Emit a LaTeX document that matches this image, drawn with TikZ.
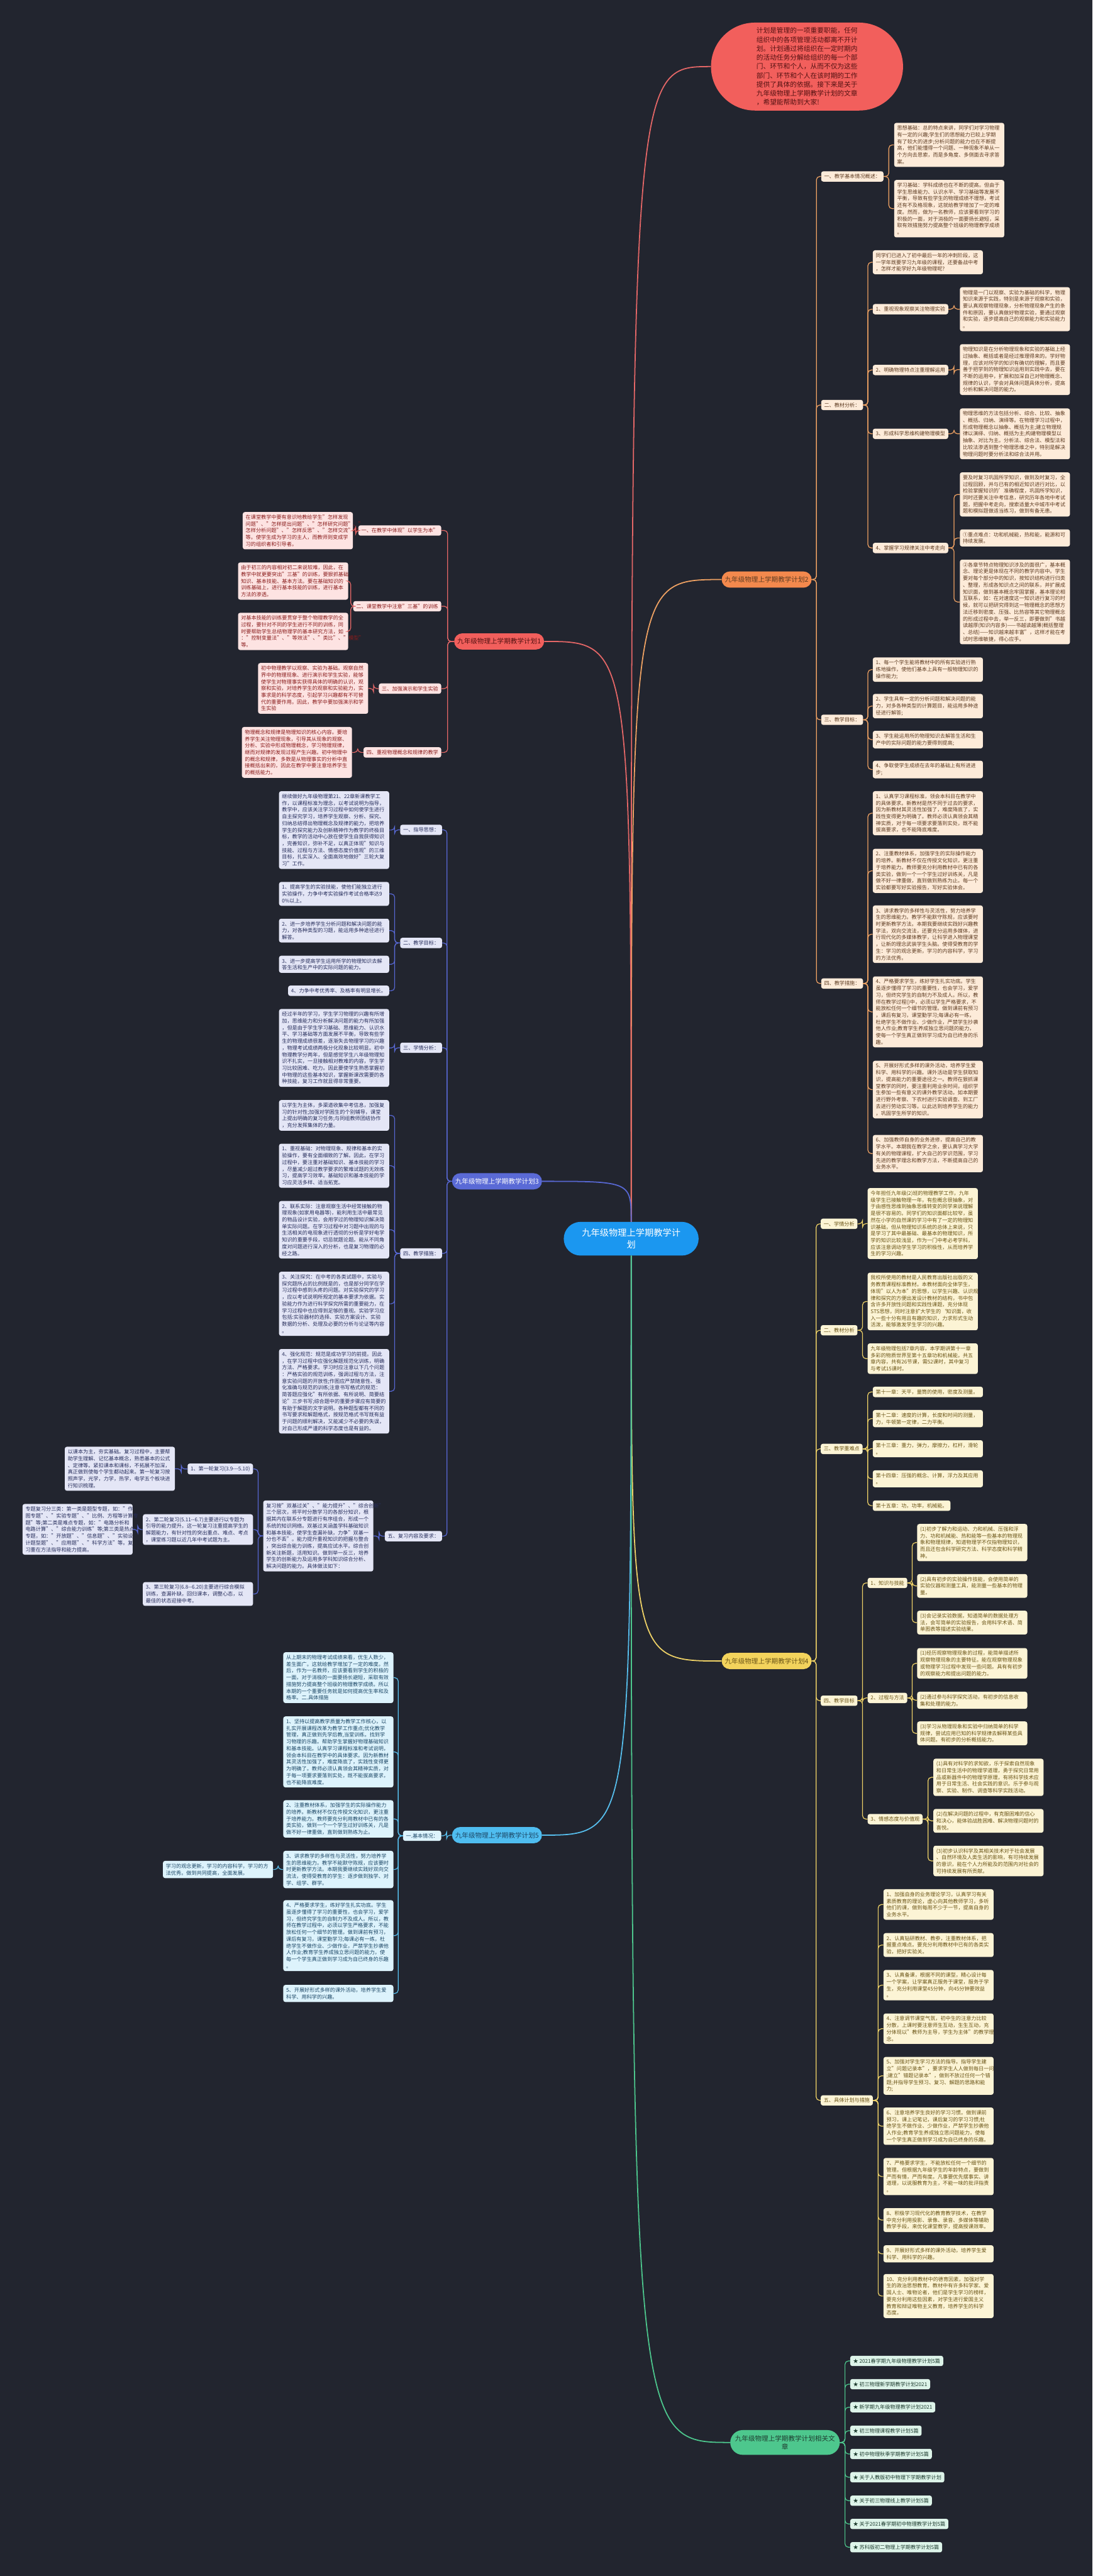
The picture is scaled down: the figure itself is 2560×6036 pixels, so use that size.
\documentclass[tikz,border=0pt]{standalone}
\usepackage{fontspec}
\setmainfont{Noto Sans CJK SC}
\usetikzlibrary{shapes.misc,calc}
\definecolor{bgc}{HTML}{22252F}
\definecolor{oL}{HTML}{EFA263}\definecolor{oP}{HTML}{F3894D}\definecolor{oF}{HTML}{FDEBD9}\definecolor{oT}{HTML}{5E3C22}
\definecolor{rL}{HTML}{E56767}\definecolor{rP}{HTML}{F25F5C}\definecolor{rF}{HTML}{FDE3E2}\definecolor{rT}{HTML}{8A1C1C}
\definecolor{bL}{HTML}{5868D4}\definecolor{bP}{HTML}{5A6AD6}\definecolor{bF}{HTML}{E4E6F6}\definecolor{bT}{HTML}{272E5C}
\definecolor{yL}{HTML}{EFD267}\definecolor{yP}{HTML}{F3D35C}\definecolor{yF}{HTML}{FCF4D5}\definecolor{yT}{HTML}{6A5416}
\definecolor{cL}{HTML}{57BFEE}\definecolor{cP}{HTML}{4FBDF0}\definecolor{cF}{HTML}{DDF3FC}\definecolor{cT}{HTML}{1C4766}
\definecolor{gL}{HTML}{4DC78D}\definecolor{gP}{HTML}{4DC78D}\definecolor{gF}{HTML}{DDF4E9}\definecolor{gT}{HTML}{1F3D30}
\definecolor{ctrC}{HTML}{1B97F0}
\newcommand\myfs{\fontsize{12}{15.8}\selectfont}
\newcommand\pillfs{\fontsize{15.6}{19}\selectfont}
\newcommand\linkR[3]{\draw[#1] (#2.east) -- ($(#2.east)!.5!(#2.east -| #3.west)$) |- (#3.west);}
\newcommand\linkL[3]{\draw[#1] (#2.west) -- ($(#2.west)!.5!(#2.west -| #3.east)$) |- (#3.east);}
\begin{document}
\begin{tikzpicture}[x=1pt,y=-1pt,
  bx/.style={rounded corners=5pt, align=left, inner xsep=7pt, inner ysep=6.5pt, font=\myfs},
  wbox/.style={text width=244pt},
  boxO/.style={bx, fill=oF, text=oT},
  boxR/.style={bx, fill=rF, text=rT},
  boxB/.style={bx, fill=bF, text=bT},
  boxY/.style={bx, fill=yF, text=yT},
  boxC/.style={bx, fill=cF, text=cT},
  boxG/.style={bx, fill=gF, text=gT},
  pill/.style={rounded rectangle, minimum height=38pt, inner xsep=6pt, inner ysep=4pt, font=\pillfs},
  lnO/.style={draw=oL, line width=1.8pt, rounded corners=8pt},
  lnR/.style={draw=rL, line width=1.8pt, rounded corners=8pt},
  lnB/.style={draw=bL, line width=1.8pt, rounded corners=8pt},
  lnY/.style={draw=yL, line width=1.8pt, rounded corners=8pt},
  lnC/.style={draw=cL, line width=1.8pt, rounded corners=8pt},
  lnG/.style={draw=gL, line width=1.8pt, rounded corners=8pt},
  mainln/.style={line width=2.6pt}]
\fill[bgc] (0,0) rectangle (2560,6036);
\useasboundingbox (0,0) rectangle (2560,6036);

% ---------- center, note, branch pills ----------
\node[rounded rectangle, fill=ctrC, text=white, minimum width=324pt, minimum height=79pt, align=center, font=\fontsize{21}{27}\selectfont, inner xsep=4pt] (ctr) at (1479,2902.5) {九年级物理上学期教学计\\划};
\node[rounded rectangle, fill=rP, text=rT!60!black, minimum width=452pt, minimum height=206pt, align=left, font=\fontsize{15.8}{21}\selectfont, inner xsep=1pt] (note) at (1891,156) {计划是管理的一项重要职能，任何\\组织中的各项管理活动都离不开计\\划。计划通过将组织在一定时期内\\的活动任务分解给组织的每一个部\\门、环节和个人，从而不仅为这些\\部门、环节和个人在该时期的工作\\提供了具体的依据。接下来是关于\\九年级物理上学期教学计划的文章\\，希望能帮助到大家!};
\node[pill, fill=oP, text=oT, anchor=east] (p2) at (1902,1358) {九年级物理上学期教学计划2};
\node[pill, fill=rP, text=rT!60!black, anchor=west] (p1) at (1064,1503) {九年级物理上学期教学计划1};
\node[pill, fill=bP, text=white, anchor=west] (p3) at (1059,2768) {九年级物理上学期教学计划3};
\node[pill, fill=yP, text=yT, anchor=east] (p4) at (1902,3892) {九年级物理上学期教学计划4};
\node[pill, fill=cP, text=cT, anchor=west] (p5) at (1059,4300) {九年级物理上学期教学计划5};
\node[pill, fill=gP, text=gT, anchor=east, align=center, minimum height=58pt] (rel) at (1968,5723) {九年级物理上学期教学计划相关文\\章};

\draw[mainln, rL] (ctr.north) .. controls (ctr.north |- note.west) .. (note.west);
\draw[mainln, oL] (ctr.north) .. controls (ctr.north |- p2.west) .. (p2.west);
\draw[mainln, rL] (ctr.north) .. controls (ctr.north |- p1.east) .. (p1.east);
\draw[mainln, bL] (ctr.north) .. controls (ctr.north |- p3.east) .. (p3.east);
\draw[mainln, yL] (ctr.south) .. controls (ctr.south |- p4.west) .. (p4.west);
\draw[mainln, cL] (ctr.south) .. controls (ctr.south |- p5.east) .. (p5.east);
\draw[mainln, gL] (ctr.south) .. controls (ctr.south |- rel.west) .. (rel.west);

% ---------- plan 2 ----------
\node[boxO, anchor=west] (p2a) at (1924,413.5) {一、教学基本情况概述：};
\node[boxO, wbox, anchor=west] (p2a1) at (2095,339.5) {思想基础：总的特点来讲，同学们对学习物理\\有一定的兴趣;学生们的思想能力已较上学期\\有了较大的进步;分析问题的能力也在不断提\\高，他们能懂得一个问题、一种现象不单从一\\个方向去思索，而是多角度、多侧面去寻求答\\案。};
\node[boxO, wbox, anchor=west] (p2a2) at (2095,489) {学习基础：学科成绩也在不断的提高。但由于\\学生思维能力、认识水平、学习基础等发展不\\平衡，导致有些学生的物理成绩不理想，考试\\还有不及格现象，这就给教学增加了一定的难\\度。然而，做为一名教师，应该要看到学习的\\积极的一面，对于消极的一面要扬长避短，采\\取有效措施努力提高整个班级的物理教学成绩\\。};
\node[boxO, anchor=west] (p2b) at (1924,949) {二、教材分析：};
\node[boxO, wbox, anchor=west] (p2b0) at (2045,614.5) {同学们已进入了初中最后一年的冲刺阶段，这\\一学年既要学习九年级的课程，还要备战中考\\，怎样才能学好九年级物理呢?};
\node[boxO, anchor=west] (p2b1) at (2045,724.5) {1、重视现象观察关注物理实验};
\node[boxO, wbox, anchor=west] (p2b1a) at (2249,724.5) {物理是一门以观察、实验为基础的科学，物理\\知识来源于实践，特别是来源于观察和实验，\\要认真观察物理现象，分析物理现象产生的条\\件和原因，要认真做好物理实验，要通过观察\\和实验，逐步提高自己的观察能力和实验能力\\。};
\node[boxO, anchor=west] (p2b2) at (2045,867) {2、明确物理特点注重理解运用};
\node[boxO, wbox, anchor=west] (p2b2a) at (2249,866) {物理知识是在分析物理现象和实验的基础上经\\过抽象、概括或者是经过推理得来的。学好物\\理，应该对所学的知识有确切的理解，而且要\\善于把学到的物理知识运用到实践中去，要在\\不断的运用中，扩展和加深自己对物理概念、\\规律的认识，学会对具体问题具体分析，提高\\分析和解决问题的能力。};
\node[boxO, anchor=west] (p2b3) at (2045,1016.5) {3、形成科学思维构建物理模型};
\node[boxO, wbox, anchor=west] (p2b3a) at (2249,1016.5) {物理思维的方法包括分析、综合、比较、抽象\\、概括、归纳、演绎等。在物理学习过程中，\\形成物理概念以抽象、概括为主;建立物理规\\律以演绎、归纳、概括为主;构建物理模型以\\抽象、对比为主。分析法、综合法、模型法和\\比较法渗透到整个物理思维之中，特别是解决\\物理问题时要分析法和综合法并用。};
\node[boxO, anchor=west] (p2b4) at (2045,1284) {4、掌握学习规律关注中考走向};
\node[boxO, wbox, anchor=west] (p2b4a) at (2249,1158.5) {要及时复习巩固所学知识，做到及时复习，全\\过程回顾，并与已有的相近知识进行对比，以\\检验掌握知识的'准确程度，巩固所学知识，\\同时还要关注中考信息，研究历年各地中考试\\题，把握中考走向，搜索适量大中城市中考试\\题和模拟题做适当练习，做到有备无患。};
\node[boxO, wbox, anchor=west] (p2b4b) at (2249,1260.5) {①重点难点：功和机械能，热和能，能源和可\\持续发展。};
\node[boxO, wbox, anchor=west] (p2b4c) at (2249,1410.5) {②各章节特点物理知识涉及的面很广，基本概\\念、理论更是体现在不同的教学内容中。学生\\要对每个部分中的知识，按知识结构进行归类\\、整理，形成各知识点之间的联系，并扩展成\\知识面，做到基本概念牢固掌握，基本理论相\\互联系，如：在对速度这一知识进行复习的时\\候，就可以把研究得到这一物理概念的思想方\\法迁移到密度、压强、比热容等其它物理概念\\的形成过程中去，举一反三，即要做到"书越\\读越厚(知识内容多)——书越读越薄(概括整理\\、总结)——知识越来越丰富"，这样才能在考\\试时思维敏捷，得心应手。};
\node[boxO, anchor=west] (p2c) at (1924,1686.5) {三、教学目标：};
\node[boxO, wbox, anchor=west] (p2c1) at (2045,1569) {1、每一个学生能将教材中的所有实验进行熟\\练地操作，使他们基本上具有一般物理知识的\\操作能力;};
\node[boxO, wbox, anchor=west] (p2c2) at (2045,1654.5) {2、学生具有一定的分析问题和解决问题的能\\力，对多各种类型的计算题目，能运用多种途\\径进行解答;};
\node[boxO, wbox, anchor=west] (p2c3) at (2045,1733) {3、学生能运用所的物理知识去解答生活和生\\产中的实际问题的能力要得到提高;};
\node[boxO, wbox, anchor=west] (p2c4) at (2045,1803) {4、争取使学生成绩在去年的基础上有所进进\\步;};
\node[boxO, anchor=west] (p2d) at (1924,2304.5) {四、教学措施：};
\node[boxO, wbox, anchor=west] (p2d1) at (2045,1905.5) {1、认真学习课程标准，领会本科目在教学中\\的具体要求。新教材是然不同于过去的要求，\\因为新教材其灵活性加强了，难度降底了，实\\践性变得更为明确了。教师必须认真领会其精\\神实质，对于每一项要求要落到实处，既不能\\拔高要求，也不能降底难度。};
\node[boxO, wbox, anchor=west] (p2d2) at (2045,2040.5) {2、注重教材体系，加强学生的实际操作能力\\的培养。新教材不仅在传授文化知识，更注重\\于培养能力。教师要充分利用教材中已有的各\\类实验，做到一个一个学生过好训练关，凡是\\做不好一律重做，直到做到熟练为止。每一个\\实验都要写好实验报告，写好实验体会。};
\node[boxO, wbox, anchor=west] (p2d3) at (2045,2189) {3、讲求教学的多样性与灵活性，努力培养学\\生的思维能力。教学不能默守陈规，应该要时\\时更新教学方法。本期我要继续实践好兴趣教\\学法，双向交流法，还要充分运用多媒体，进\\行现代化的多媒体教学，让科学进入物理课堂\\，让新的理念武装学生头脑。使得受教育的学\\生：学习的观念更新，学习的内容科学，学习\\的方法优秀。};
\node[boxO, wbox, anchor=west] (p2d4) at (2045,2371) {4、严格要求学生，练好学生扎实功底。学生\\虽逐步懂得了学习的重要性，也会学习，爱学\\习，但终究学生的自制力不及成人。所以，教\\师在教学过程()中，必须以学生严格要求，不\\能放松任何一个细节的管理。做到课前有预习\\，课后有复习，课堂勤学习;每课必有一练，\\杜绝学生不做作业、少做作业，严禁学生抄袭\\他人作业;教育学生养成独立思问题的能力，\\使每一个学生真正做到学习成为自已终身的乐\\趣。};
\node[boxO, wbox, anchor=west] (p2d5) at (2045,2553) {5、开展好形式多样的课外活动，培养学生爱\\科学、用科学的兴趣。课外活动是学生获取知\\识，提高能力的重要途径之一。教师在狠抓课\\堂教学的同时，要注重利用业余时间，组织学\\生参加一些有意义的课外教学活动。如本期要\\进行野外考察、下农村进行实验调查、到工厂\\去进行劳动实习等。以此达到培养学生的能力\\，巩固学生所学的知识。};
\node[boxO, wbox, anchor=west] (p2d6) at (2045,2703) {6、加强教师自身的业务进修，提高自己的教\\学水平。本期我在教学之余，要认真学习大学\\有关的物理课程，扩大自己的学识范围，学习\\先进的教学理念和教学方法，不断提高自己的\\业务水平。};
\linkR{lnO}{p2}{p2a}\linkR{lnO}{p2}{p2b}\linkR{lnO}{p2}{p2c}\linkR{lnO}{p2}{p2d}
\linkR{lnO}{p2a}{p2a1}\linkR{lnO}{p2a}{p2a2}
\linkR{lnO}{p2b}{p2b0}\linkR{lnO}{p2b}{p2b1}\linkR{lnO}{p2b}{p2b2}\linkR{lnO}{p2b}{p2b3}\linkR{lnO}{p2b}{p2b4}
\linkR{lnO}{p2b1}{p2b1a}\linkR{lnO}{p2b2}{p2b2a}\linkR{lnO}{p2b3}{p2b3a}
\linkR{lnO}{p2b4}{p2b4a}\linkR{lnO}{p2b4}{p2b4b}\linkR{lnO}{p2b4}{p2b4c}
\linkR{lnO}{p2c}{p2c1}\linkR{lnO}{p2c}{p2c2}\linkR{lnO}{p2c}{p2c3}\linkR{lnO}{p2c}{p2c4}
\linkR{lnO}{p2d}{p2d1}\linkR{lnO}{p2d}{p2d2}\linkR{lnO}{p2d}{p2d3}\linkR{lnO}{p2d}{p2d4}\linkR{lnO}{p2d}{p2d5}\linkR{lnO}{p2d}{p2d6}

% ---------- plan 1 ----------
\node[boxR, anchor=east] (p1a) at (1034,1243) {一、在教学中体现"以学生为本"};
\node[boxR, wbox, anchor=east] (p1a1) at (827,1243.5) {在课堂教学中要有意识地教给学生"怎样发现\\问题"、"怎样提出问题"、"怎样研究问题"、"\\怎样分析问题"、"怎样反思"、"怎样交流"等\\等。使学生成为学习的主人，而教师则变成学\\习的组织者和引导者。};
\node[boxR, anchor=east] (p1b) at (1034,1420.5) {二、课堂教学中注意"三基"的训练};
\node[boxR, wbox, anchor=east] (p1b1) at (816,1361.5) {由于初三的内容相对初二来说较难，因此，在\\教学中就更要突出"三基"的训练，要狠抓基础\\知识、基本技能、基本方法。要在基础知识的\\训练基础上，进行基本技能的训练，进行基本\\方法的渗透。};
\node[boxR, wbox, anchor=east] (p1b2) at (816,1479.5) {对基本技能的训练要贯穿于整个物理教学的全\\过程，要针对不同的学生进行不同的训练，同\\时要帮助学生总结物理学的基本研究方法，如\\："控制变量法"、"等效法"、"类比"、"模型"\\等。};
\node[boxR, anchor=east] (p1c) at (1034,1613.5) {三、加强演示和学生实验};
\node[boxR, wbox, anchor=east] (p1c1) at (863,1613) {初中物理教学以观察、实验为基础。观察自然\\界中的物理现象、进行演示和学生实验，能够\\使学生对物理事实获得具体的明确的认识，观\\察和实验，对培养学生的观察和实验能力，实\\事求是的科学态度，引起学习兴趣都有不可替\\代的重要作用。因此，教学中要加强演示和学\\生实验};
\node[boxR, anchor=east] (p1d) at (1034,1763) {四、重视物理概念和规律的教学};
\node[boxR, wbox, anchor=east] (p1d1) at (825,1763) {物理概念和规律是物理知识的核心内容。要培\\养学生关注物理现象，引导其从现象的观察、\\分析、实验中形成物理概念，学习物理规律，\\继而对规律的发现过程产生兴趣。初中物理中\\的概念和规律，多数是从物理事实的分析中直\\接概括出来的，因此在教学中要注意培养学生\\的概括能力。};
\linkL{lnR}{p1}{p1a}\linkL{lnR}{p1}{p1b}\linkL{lnR}{p1}{p1c}\linkL{lnR}{p1}{p1d}
\linkL{lnR}{p1a}{p1a1}\linkL{lnR}{p1b}{p1b1}\linkL{lnR}{p1b}{p1b2}\linkL{lnR}{p1c}{p1c1}\linkL{lnR}{p1d}{p1d1}

% ---------- plan 3 ----------
\node[boxB, anchor=east] (p3a) at (1036,1944.5) {一、指导思想：};
\node[boxB, wbox, anchor=east] (p3a1) at (912,1945) {继续做好九年级物理第21、22章新课教学工\\作，以课程标准为理念，以考试说明为指导，\\教学中，应该关注学习过程中如何使学生进行\\自主探究学习，培养学生观察、分析、探究、\\归纳总结得出物理概念及规律的能力，把培养\\学生的探究能力及创新精神作为教学的终极目\\标，教学的活动中心放在使学生自我获得知识\\，完善知识，弥补不足，以真正体现"知识与\\技能、过程与方法、情感态度价值观"的三维\\目标，扎实深入、全面高效地做好"三轮大复\\习"工作。};
\node[boxB, anchor=east] (p3b) at (1036,2209.5) {二、教学目标：};
\node[boxB, wbox, anchor=east] (p3b1) at (912,2094.5) {1、提高学生的实验技能，使他们能独立进行\\实验操作，力争中考实验操作考试合格率达9\\0\%以上。};
\node[boxB, wbox, anchor=east] (p3b2) at (912,2180.5) {2、进一步培养学生分析问题和解决问题的能\\力，对各种类型的习题，能运用多种途径进行\\解答。};
\node[boxB, wbox, anchor=east] (p3b3) at (912,2259.5) {3、进一步提高学生运用所学的物理知识去解\\答生活和生产中的实际问题的能力。};
\node[boxB, anchor=east] (p3b4) at (912,2321.5) {4、力争中考优秀率、及格率有明显增长。};
\node[boxB, anchor=east] (p3c) at (1036,2455) {三、学情分析：};
\node[boxB, wbox, anchor=east] (p3c1) at (912,2455.5) {经过半年的学习，学生学习物理的兴趣有所增\\加，思维能力和分析解决问题的能力有所加强\\，但是由于学生学习基础、思维能力、认识水\\平、学习基础等方面发展不平衡，导致有些学\\生的物理成绩很差，逐渐失去物理学习的兴趣\\，物理考试成绩两极分化现象比较明显。初中\\物理教学分两年，但是感觉学生八年级物理知\\识不扎实，一旦接触相对教难的内容，学生学\\习比较困难、吃力。因此要使学生熟悉掌握初\\中物理的这些基本知识，掌握新课改需要的各\\种技能，复习工作就显得非常重要。};
\node[boxB, anchor=east] (p3d) at (1036,2937) {四、教学措施：};
\node[boxB, wbox, anchor=east] (p3d0) at (912,2613.5) {以学生为主体，多渠道收集中考信息，加强复\\习的针对性;加强对学困生的个别辅导，课堂\\上提出明确的复习任务;与同组教师团结协作\\，充分发挥集体的力量。};
\node[boxB, wbox, anchor=east] (p3d1) at (912,2731.5) {1、重视基础：对物理现象、规律和基本的实\\验操作，要有全面细致的了解。因此，在学习\\过程中，要注重对基础知识、基本技能的学习\\，尽量减少超过教学要求的繁难试题的无效练\\习，提高学习效率。基础知识和基本技能的学\\习应灵活多样、适当拓宽。};
\node[boxB, wbox, anchor=east] (p3d2) at (912,2881.5) {2、联系实际：注意观察生活中经常接触的物\\理现象(如家用电器等)，能利用生活中最常见\\的物品设计实验，会用学过的物理知识解决简\\单实际问题。在学习过程中对习题中出现的与\\生活相关的电现象进行透彻的分析是学好电学\\知识的重要手段，切忌就题论题。能从不同角\\度对问题进行深入的分析，也是复习物理的必\\经之路。};
\node[boxB, wbox, anchor=east] (p3d3) at (912,3055) {3、关注探究：在中考的各类试题中，实验与\\探究题所占的比例既是的，也是部分同学在学\\习过程中感到头疼的问题。对实验探究的学习\\，应以考试说明所规定的基本要求为依据。实\\验能力作为进行科学探究所需的重要能力，在\\学习过程中也应得到足够的重视。实验学习应\\包括:实验器材的选择、实验方案设计、实验\\数据的分析、处理及必要的分析与论证等内容\\。};
\node[boxB, wbox, anchor=east] (p3d4) at (912,3260) {4、强化规范：规范是成功学习的前提。因此\\，在学习过程中应强化解题规范化训练，明确\\方法、严格要求。学习时应注意以下几个问题\\：严格实验的规范训练，强调过程与方法，注\\意实验问题的开放性;作图应严禁随意性、强\\化准确与规范的训练;注意书写格式的规范：\\简答题应强化"有所依据、有所说明、简要结\\论"三步书写;综合题中的重要步骤应有简要的\\有助于解题的文字说明。各种题型都有不同的\\书写要求和解题格式，按规范格式书写既有益\\于问题的顺利解决，又能减少不必要的失误，\\对自己形成严谨的科学态度也是有益的。};
\node[boxB, anchor=east] (p3e) at (1036,3599.5) {五、复习内容及要求：};
\node[boxB, wbox, anchor=east] (p3e1) at (875,3599) {复习按"双基过关"、"能力提升"、"综合创新"\\三个层次，将平时分散学习的各部分知识，根\\据其内在联系分专题进行有序组合，形成一个\\系统的知识网络。双基过关涵盖学科基础知识\\和基本技能，使学生查漏补缺，力争"双基一\\分也不丢"。能力提升重视知识的把握与整合\\，突出综合能力训练，提高应试水平。综合创\\新关注新题，活用知识。做到举一反三，培养\\学生的创新能力及运用多学科知识综合分析、\\解决问题的能力。具体做法如下：};
\node[boxB, anchor=east] (p3f1) at (593,3442) {1、第一轮复习(3.9-{}-{}-5.10)};
\node[boxB, wbox, anchor=east] (p3f1a) at (410,3441.5) {以课本为主，夯实基础。复习过程中，主要帮\\助学生理解、记忆基本概念，熟悉基本的公式\\、定律等。紧扣课本和课标，不拓展不加深，\\真正做到使每个学生都动起来。第一轮复习按\\照声学，光学，力学，热学，电学五个板块进\\行知识梳理。};
\node[boxB, wbox, anchor=east] (p3f2) at (593,3584) {2、第二轮复习(5.11-{}-6.7)主要进行以专题为\\引导的能力提升。这一轮复习注重提高学生的\\解题能力，有针对性的突出重点、难点、考点\\，课堂练习题以近几年中考试题为主。};
\node[boxB, wbox, anchor=east] (p3f2a) at (311,3583.5) {专题复习分三类：第一类是题型专题，如："作\\图专题"、"实验专题"、"比例、方程等计算专\\题"等;第二类是难点专题，如："电路分析和\\电路计算"、"综合能力训练"等;第三类是热点\\专题，如："开放题"、"信息题"、"实验设\\计题型题"、"应用题"、"科学方法"等。复\\习重在方法指导和能力提高。};
\node[boxB, wbox, anchor=east] (p3f3) at (593,3735) {3、第三轮复习(6.8-{}-6.20)主要进行综合模拟\\训练，查漏补缺，回归课本，调整心态，以\\最佳的状态迎接中考。};
\linkL{lnB}{p3}{p3a}\linkL{lnB}{p3}{p3b}\linkL{lnB}{p3}{p3c}\linkL{lnB}{p3}{p3d}\linkL{lnB}{p3}{p3e}
\linkL{lnB}{p3a}{p3a1}
\linkL{lnB}{p3b}{p3b1}\linkL{lnB}{p3b}{p3b2}\linkL{lnB}{p3b}{p3b3}\linkL{lnB}{p3b}{p3b4}
\linkL{lnB}{p3c}{p3c1}
\linkL{lnB}{p3d}{p3d0}\linkL{lnB}{p3d}{p3d1}\linkL{lnB}{p3d}{p3d2}\linkL{lnB}{p3d}{p3d3}\linkL{lnB}{p3d}{p3d4}
\linkL{lnB}{p3e}{p3e1}
\linkL{lnB}{p3e1}{p3f1}\linkL{lnB}{p3e1}{p3f2}\linkL{lnB}{p3e1}{p3f3}
\linkL{lnB}{p3f1}{p3f1a}\linkL{lnB}{p3f2}{p3f2a}

% ---------- plan 4 ----------
\node[boxY, anchor=west] (p4a) at (1923,2867.5) {一、学情分析};
\node[boxY, wbox, anchor=west] (p4a1) at (2033,2867) {今年担任九年级(2)班的物理教学工作，九年\\级学生已接触物理一年，有些概念很抽象，对\\于由感性思维到抽象思维转变的同学来说理解\\是很不容易的。同学们的知识面都比较窄，虽\\然在小学的自然课的学习中有了一定的物理知\\识基础，但从物理知识系统的总体上来说，只\\是学习了其中最基础、最基本的物理知识，所\\学的知识比较浅显，作为一门中考必考学科，\\应该注意调动学生学习的积极性，从而培养学\\生的学习兴趣。};
\node[boxY, anchor=west] (p4b) at (1923,3117) {二、教材分析};
\node[boxY, wbox, anchor=west] (p4b1) at (2033,3049.5) {我校所使用的教材是人民教育出版社出版的义\\务教育课程标准教材。本教材面向全体学生，\\体现"以人为本"的思想，以学生兴趣、认识规\\律和探究的方便出发设计教材的结构，书中包\\含许多开放性问题和实践性课题，充分体现\\STS思想，同时注意扩大学生的`知识面，收\\入一些十分有用且有趣的知识，力求形式生动\\活泼，能够激发学生学习的兴趣。};
\node[boxY, wbox, anchor=west] (p4b2) at (2033,3183.5) {九年级物理包括7章内容，本学期讲第十一章\\多彩的物质世界至第十五章功和机械能，共五\\章内容，共有26节课，需52课时，其中复习\\与考试15课时。};
\node[boxY, anchor=west] (p4c) at (1923,3395) {三、教学重难点};
\node[boxY, wbox, anchor=west] (p4c1) at (2045,3261.5) {第十一章：天平，量筒的使用，密度及测量。};
\node[boxY, wbox, anchor=west] (p4c2) at (2045,3324) {第十二章：速度的计算，长度和时间的测量，\\力，牛顿第一定律，二力平衡。};
\node[boxY, wbox, anchor=west] (p4c3) at (2045,3394.5) {第十三章：重力，弹力，摩擦力，杠杆，滑轮\\。};
\node[boxY, wbox, anchor=west] (p4c4) at (2045,3465) {第十四章：压强的概念、计算，浮力及其应用\\。};
\node[boxY, anchor=west] (p4c5) at (2045,3528) {第十五章：功，功率，机械能。};
\node[boxY, anchor=west] (p4d) at (1923,3985) {四、教学目标};
\node[boxY, anchor=west] (p4d1) at (2033,3709) {1、知识与技能};
\node[boxY, wbox, anchor=west] (p4d1a) at (2149,3614.5) {(1)初步了解力和运动、力和机械、压强和浮\\力、功和机械能、热和能等一些基本的物理现\\象和物理规律，知道物理学不仅指物理知识，\\而且还包含科学研究方法、科学态度和科学精\\神。};
\node[boxY, wbox, anchor=west] (p4d1b) at (2149,3716) {(2)具有初步的实验操作技能，会使用简单的\\实验仪器和测量工具，能测量一些基本的物理\\量。};
\node[boxY, wbox, anchor=west] (p4d1c) at (2149,3802) {(3)会记录实验数据，知道简单的数据处理方\\法，会写简单的实验报告，会用科学术语、简\\单图表等描述实验结果。};
\node[boxY, anchor=west] (p4d2) at (2033,3978.5) {2、过程与方法};
\node[boxY, wbox, anchor=west] (p4d2a) at (2149,3897.5) {(1)经历观察物理现象的过程，能简单描述所\\观察物理现象的主要特征。能在观察物理现象\\或物理学习过程中发现一些问题。具有有初步\\的观察能力和提出问题的能力。};
\node[boxY, wbox, anchor=west] (p4d2b) at (2149,3984) {(2)通过参与科学探究活动，有初步的信息收\\集和处理的能力。};
\node[boxY, wbox, anchor=west] (p4d2c) at (2149,4061.5) {(3)学习从物理现象和实验中归纳简单的科学\\规律，尝试应用已知的科学规律去解释某些具\\体问题。有初步的分析概括能力。};
\node[boxY, anchor=west] (p4d3) at (2033,4262.5) {3、情感态度与价值观};
\node[boxY, wbox, anchor=west] (p4d3a) at (2187,4164.5) {(1)具有对科学的求知欲，乐于探索自然现象\\和日常生活中的物理学道理，勇于探究日常用\\品或新器件中的物理学原理，有将科学技术应\\用于日常生活、社会实践的意识。乐于参与观\\察、实验、制作、调查等科学实践活动。};
\node[boxY, wbox, anchor=west] (p4d3b) at (2187,4266.5) {(2)在解决问题的过程中，有克服困难的信心\\和决心，能体验战胜困难、解决物理问题时的\\喜悦。};
\node[boxY, wbox, anchor=west] (p4d3c) at (2187,4360.5) {(3)初步认识科学及其相关技术对于社会发展\\、自然环境及人类生活的影响，有可持续发展\\的意识，能在个人力所能及的范围内对社会的\\可持续发展有所贡献。};
\node[boxY, anchor=west] (p4e) at (1923,4921.5) {五、具体计划与措施};
\node[boxY, wbox, anchor=west] (p4e1) at (2070,4462.5) {1、加强自身的业务理论学习，认真学习有关\\素质教育的理论，虚心向其他教师学习，多听\\他们的课，做到每周不少于一节，提高自身的\\业务水平。};
\node[boxY, wbox, anchor=west] (p4e2) at (2070,4557.5) {2、认真钻研教材、教参，注重教材体系，把\\握重点难点。要充分利用教材中已有的各类实\\验，把好实验关。};
\node[boxY, wbox, anchor=west] (p4e3) at (2070,4651.5) {3、认真备课，根据不同的课型，精心设计每\\一个学案，让学案真正服务于课堂，服务于学\\生，充分利用课堂45分钟，向45分钟要效益\\。};
\node[boxY, wbox, anchor=west] (p4e4) at (2070,4753.5) {4、注意调节课堂气氛，初中生的注意力比较\\分散，上课时要注意师生互动，生生互动，充\\分体现以"教师为主导，学生为主体"的教学理\\念。};
\node[boxY, wbox, anchor=west] (p4e5) at (2070,4864) {5、加强对学生学习方法的指导。指导学生建\\立"问题记录本"，要求学生人人做到每日一问\\;建立"错题记录本"，做到不放过任何一个错\\题;并指导学生预习、复习、解题的思路和能\\力;};
\node[boxY, wbox, anchor=west] (p4e6) at (2070,4982) {6、注意培养学生良好的学习习惯。做到课前\\预习，课上记笔记，课后复习的学习习惯;杜\\绝学生不做作业、少做作业，严禁学生抄袭他\\人作业;教育学生养成独立思问题能力，使每\\一个学生真正做到学习成为自已终身的乐趣。};
\node[boxY, wbox, anchor=west] (p4e7) at (2070,5100) {7、严格要求学生，不能放松任何一个细节的\\管理。但根据九年级学生的年龄特点，要做到\\严而有情，严而有度。凡事要优先摆事实、讲\\道理，以说服教育为主，不能一味的批评指责\\。};
\node[boxY, wbox, anchor=west] (p4e8) at (2070,5202) {8、积极学习现代化的教育教学技术，在教学\\中充分利用投影、录像、录音、多媒体等辅助\\教学手段，来优化课堂教学，提高授课效率。};
\node[boxY, wbox, anchor=west] (p4e9) at (2070,5281) {9、开展好形式多样的课外活动，培养学生爱\\科学、用科学的兴趣。};
\node[boxY, wbox, anchor=west] (p4e10) at (2070,5380) {10、充分利用教材中的德育因素，加强对学\\生的政治思想教育。教材中有许多科学家、爱\\国人士、唯物论者，他们是学生学习的榜样，\\要充分利用这些因素，对学生进行爱国主义\\教育和辩证唯物主义教育，培养学生的科学\\态度。};
\linkR{lnY}{p4}{p4a}\linkR{lnY}{p4}{p4b}\linkR{lnY}{p4}{p4c}\linkR{lnY}{p4}{p4d}\linkR{lnY}{p4}{p4e}
\linkR{lnY}{p4a}{p4a1}\linkR{lnY}{p4b}{p4b1}\linkR{lnY}{p4b}{p4b2}
\linkR{lnY}{p4c}{p4c1}\linkR{lnY}{p4c}{p4c2}\linkR{lnY}{p4c}{p4c3}\linkR{lnY}{p4c}{p4c4}\linkR{lnY}{p4c}{p4c5}
\linkR{lnY}{p4d}{p4d1}\linkR{lnY}{p4d}{p4d2}\linkR{lnY}{p4d}{p4d3}
\linkR{lnY}{p4d1}{p4d1a}\linkR{lnY}{p4d1}{p4d1b}\linkR{lnY}{p4d1}{p4d1c}
\linkR{lnY}{p4d2}{p4d2a}\linkR{lnY}{p4d2}{p4d2b}\linkR{lnY}{p4d2}{p4d2c}
\linkR{lnY}{p4d3}{p4d3a}\linkR{lnY}{p4d3}{p4d3b}\linkR{lnY}{p4d3}{p4d3c}
\linkR{lnY}{p4e}{p4e1}\linkR{lnY}{p4e}{p4e2}\linkR{lnY}{p4e}{p4e3}\linkR{lnY}{p4e}{p4e4}\linkR{lnY}{p4e}{p4e5}
\linkR{lnY}{p4e}{p4e6}\linkR{lnY}{p4e}{p4e7}\linkR{lnY}{p4e}{p4e8}\linkR{lnY}{p4e}{p4e9}\linkR{lnY}{p4e}{p4e10}

% ---------- plan 5 ----------
\node[boxC, anchor=east] (p5a) at (1034,4301.5) {一.基本情况：};
\node[boxC, wbox, anchor=east] (p5a1) at (922,3931) {从上期末的物理考试成绩来看，优生人数少，\\差生面广。这就给教学增加了一定的难度。然\\后，作为一名教师，应该要看到学生的积极的\\一面，对于消极的一面要扬长避短，采取有效\\措施努力提高整个班级的物理教学成绩。所以\\本期的一个重要任务就是如何提高优生率和及\\格率。二.具体措施};
\node[boxC, wbox, anchor=east] (p5a2) at (922,4105) {1、坚持以提高教学质量为教学工作核心，以\\扎实开展课程改革为教学工作重点;优化教学\\管理，真正做到先学后教,当堂训练。找到学\\习物理的乐趣。帮助学生掌握好物理基础知识\\和基本技能。认真学习课程标准和考试说明，\\领会本科目在教学中的具体要求。因为新教材\\其灵活性加强了，难度降底了，实践性变得更\\为明确了。教师必须认真领会其精神实质，对\\于每一项要求要落到实处，既不能拔高要求，\\也不能降底难度。};
\node[boxC, wbox, anchor=east] (p5a3) at (922,4262) {2、注重教材体系，加强学生的实际操作能力\\的培养。新教材不仅在传授文化知识，更注重\\于培养能力。教师要充分利用教材中已有的各\\类实验，做到一个一个学生过好训练关，凡是\\做不好一律重做，直到做到熟练为止。};
\node[boxC, wbox, anchor=east] (p5a4) at (922,4380.5) {3、讲求教学的多样性与灵活性，努力培养学\\生的思维能力。教学不能默守陈规，应该要时\\时更新教学方法。本期我要继续实践好双向交\\流法，使得受教育的学生：逐步做到独学、对\\学、组学、群学。};
\node[boxC, wbox, anchor=east] (p5a4a) at (640,4380.5) {学习的观念更新，学习的内容科学，学习的方\\法优秀。做到共同提高，全面发展。};
\node[boxC, wbox, anchor=east] (p5a5) at (922,4535.5) {4、严格要求学生，练好学生扎实功底。学生\\虽逐步懂得了学习的重要性，也会学习，爱学\\习，但终究学生的自制力不及成人。所以，教\\师在教学过程中，必须以学生严格要求，不能\\放松任何一个细节的管理。做到课前有预习，\\课后有复习，课堂勤学习;每课必有一练，杜\\绝学生不做作业、少做作业，严禁学生抄袭他\\人作业;教育学生养成独立思问题的能力，使\\每一个学生真正做到学习成为自已终身的乐趣\\。};
\node[boxC, wbox, anchor=east] (p5a6) at (922,4671) {5、开展好形式多样的课外活动，培养学生爱\\科学、用科学的兴趣。};
\linkL{lnC}{p5}{p5a}
\linkL{lnC}{p5a}{p5a1}\linkL{lnC}{p5a}{p5a2}\linkL{lnC}{p5a}{p5a3}\linkL{lnC}{p5a}{p5a4}\linkL{lnC}{p5a}{p5a5}\linkL{lnC}{p5a}{p5a6}
\linkL{lnC}{p5a4}{p5a4a}

% ---------- related ----------
\node[boxG, anchor=west] (r1) at (1992,5532) {★ 2021春学期九年级物理教学计划5篇};
\node[boxG, anchor=west] (r2) at (1992,5586.5) {★ 初三物理新学期教学计划2021};
\node[boxG, anchor=west] (r3) at (1992,5640.5) {★ 新学期九年级物理教学计划2021};
\node[boxG, anchor=west] (r4) at (1992,5695.5) {★ 初三物理课程教学计划5篇};
\node[boxG, anchor=west] (r5) at (1992,5750) {★ 初中物理秋季学期教学计划5篇};
\node[boxG, anchor=west] (r6) at (1992,5804.5) {★ 关于人教版初中物理下学期教学计划};
\node[boxG, anchor=west] (r7) at (1992,5859.5) {★ 关于初三物理线上教学计划5篇};
\node[boxG, anchor=west] (r8) at (1992,5914) {★ 关于2021春学期初中物理教学计划5篇};
\node[boxG, anchor=west] (r9) at (1992,5968.5) {★ 苏科版初二物理上学期教学计划5篇};
\foreach \i in {1,...,9} {\linkR{lnG}{rel}{r\i}}
\end{tikzpicture}
\end{document}
